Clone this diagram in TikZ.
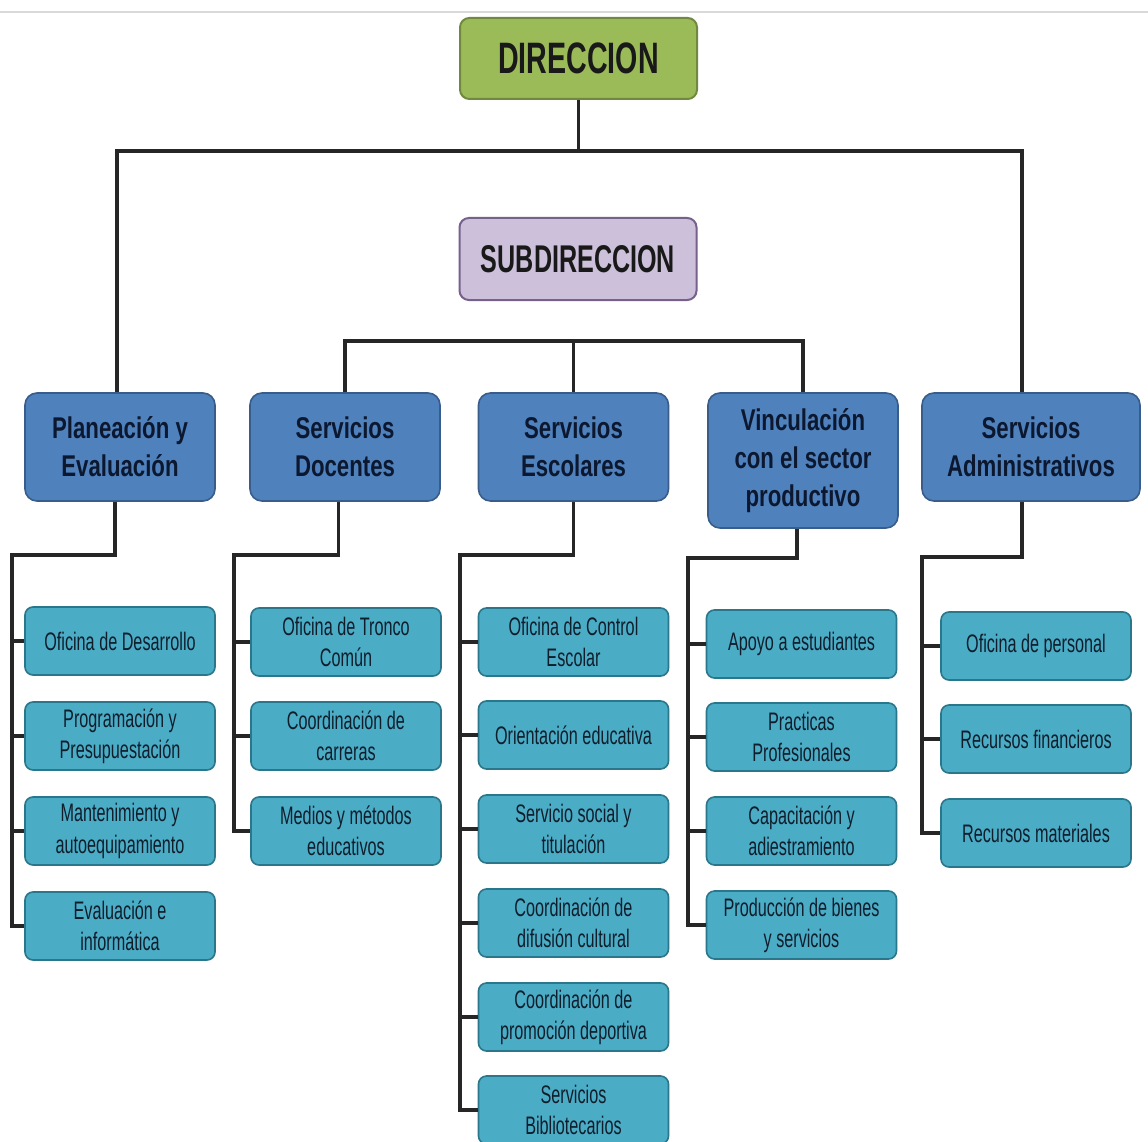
\documentclass[tikz,border=0pt]{standalone}
\usepackage{fontspec}
\setmainfont{Liberation Sans}
\newfontfamily\topfont{Liberation Sans}[FakeStretch=0.65]
\newfontfamily\areafont{Liberation Sans}[FakeStretch=0.74]
\newfontfamily\unitfont{Liberation Sans}[FakeStretch=0.64]
\usepackage{xcolor}
\usepackage{tikz}

\definecolor{dirgreen}{RGB}{155,187,89}
\definecolor{dirline}{RGB}{113,137,63}
\definecolor{sublila}{RGB}{204,192,218}
\definecolor{subline}{RGB}{118,96,140}
\definecolor{areablue}{RGB}{79,129,189}
\definecolor{arealine}{RGB}{56,93,138}
\definecolor{areatext}{RGB}{12,24,48}
\definecolor{unitcyan}{RGB}{75,172,198}
\definecolor{unitline}{RGB}{42,118,138}
\definecolor{unittext}{RGB}{16,30,44}

\begin{document}
\begin{tikzpicture}
[x=0.75pt,y=0.75pt,yscale=-1,xscale=1,
 head/.style={fill=dirgreen, draw=dirline, line width=1.5pt, rounded corners=7pt, minimum width=177.75pt, minimum height=60.75pt, inner sep=2pt, font=\topfont\bfseries\fontsize{33}{38}\selectfont, text=black!90},
 subhead/.style={head, fill=sublila, draw=subline, minimum height=61.5pt, font=\topfont\bfseries\fontsize{29}{34}\selectfont},
 area/.style={fill=areablue, draw=arealine, line width=1.2pt, rounded corners=9pt, minimum width=142.5pt, minimum height=81pt, inner sep=2pt, align=center, text=areatext, font=\areafont\bfseries\fontsize{22.5}{28.5}\selectfont},
 unit/.style={fill=unitcyan, draw=unitline, line width=1.2pt, rounded corners=6pt, minimum width=142.5pt, minimum height=51pt, inner sep=2pt, align=center, text=unittext, font=\unitfont\fontsize{19}{23.5}\selectfont},
 link/.style={draw=black!85, line width=2.6pt}]
\clip (0,0) rectangle (1148,1141);
\fill[white] (0,0) rectangle (1148,1141);
\draw [black!15, line width=1.5pt] (0,12) -- (1148,12);

% top of the chart
\node (dir) at (578.5,58.5) [head] {DIRECCION};
\node (sub) at (578,259) [subhead] {SUBDIRECCION};

% areas
\node (plan) at (120,447) [area] {Planeación y\\Evaluación};
\node (doc) at (345,447) [area] {Servicios\\Docentes};
\node (esc) at (573.5,447) [area] {Servicios\\Escolares};
\node (vinc) at (803,460.5) [area, minimum height=101.25pt] {Vinculación\\con el sector\\productivo};
\node (adm) at (1031,447) [area, minimum width=163.5pt] {Servicios\\Administrativos};

\draw [link] (dir.south) -- ++(0,53);
\draw [link] ([xshift=-2.25pt]plan.north) -- ++(0,-241) -| ([xshift=-6.75pt]adm.north);
\draw [link] (doc.north) -- ++(0,-51) -| (vinc.north);
\draw [link] (esc.north) -- ++(0,-51);

% Planeacion y Evaluacion
\node (p1) at (120,641) [unit] {Oficina de Desarrollo};
\node (p2) at (120,736) [unit] {Programación y\\Presupuestación};
\node (p3) at (120,831) [unit] {Mantenimiento y\\autoequipamiento};
\node (p4) at (120,926) [unit] {Evaluación e\\informática};
\coordinate (pspine) at (12,555);
\draw [link] ([xshift=-3.75pt]plan.south) |- (pspine) -- (pspine |- p4.west) -- (p4.west);
\draw [link] (pspine |- p1.west) -- (p1.west);
\draw [link] (pspine |- p2.west) -- (p2.west);
\draw [link] (pspine |- p3.west) -- (p3.west);

% Servicios Docentes
\node (d1) at (346,642) [unit] {Oficina de Tronco\\Común};
\node (d2) at (346,736) [unit] {Coordinación de\\carreras};
\node (d3) at (346,831) [unit] {Medios y métodos\\educativos};
\coordinate (dspine) at (234,555);
\draw [link] ([xshift=-5pt]doc.south) |- (dspine) -- (dspine |- d3.west) -- (d3.west);
\draw [link] (dspine |- d1.west) -- (d1.west);
\draw [link] (dspine |- d2.west) -- (d2.west);

% Servicios Escolares
\node (e1) at (573.5,642) [unit] {Oficina de Control\\Escolar};
\node (e2) at (573.5,735) [unit] {Orientación educativa};
\node (e3) at (573.5,829) [unit] {Servicio social y\\titulación};
\node (e4) at (573.5,923) [unit] {Coordinación de\\difusión cultural};
\node (e5) at (573.5,1017) [unit] {Coordinación de\\promoción deportiva};
\node (e6) at (573.5,1110) [unit] {Servicios\\Bibliotecarios};
\coordinate (espine) at (460,555);
\draw [link] (esc.south) |- (espine) -- (espine |- e6.west) -- (e6.west);
\draw [link] (espine |- e1.west) -- (e1.west);
\draw [link] (espine |- e2.west) -- (e2.west);
\draw [link] (espine |- e3.west) -- (e3.west);
\draw [link] (espine |- e4.west) -- (e4.west);
\draw [link] (espine |- e5.west) -- (e5.west);

% Vinculacion
\node (v1) at (801.5,644) [unit] {Apoyo a estudiantes};
\node (v2) at (801.5,737) [unit] {Practicas\\Profesionales};
\node (v3) at (801.5,831) [unit] {Capacitación y\\adiestramiento};
\node (v4) at (801.5,925) [unit] {Producción de bienes\\y servicios};
\coordinate (vspine) at (688,558);
\draw [link] ([xshift=-4.5pt]vinc.south) |- (vspine) -- (vspine |- v4.west) -- (v4.west);
\draw [link] (vspine |- v1.west) -- (v1.west);
\draw [link] (vspine |- v2.west) -- (v2.west);
\draw [link] (vspine |- v3.west) -- (v3.west);

% Servicios Administrativos
\node (a1) at (1036,646) [unit] {Oficina de personal};
\node (a2) at (1036,739) [unit] {Recursos financieros};
\node (a3) at (1036,833) [unit] {Recursos materiales};
\coordinate (aspine) at (922,557);
\draw [link] ([xshift=-6.75pt]adm.south) |- (aspine) -- (aspine |- a3.west) -- (a3.west);
\draw [link] (aspine |- a1.west) -- (a1.west);
\draw [link] (aspine |- a2.west) -- (a2.west);

\end{tikzpicture}
\end{document}
